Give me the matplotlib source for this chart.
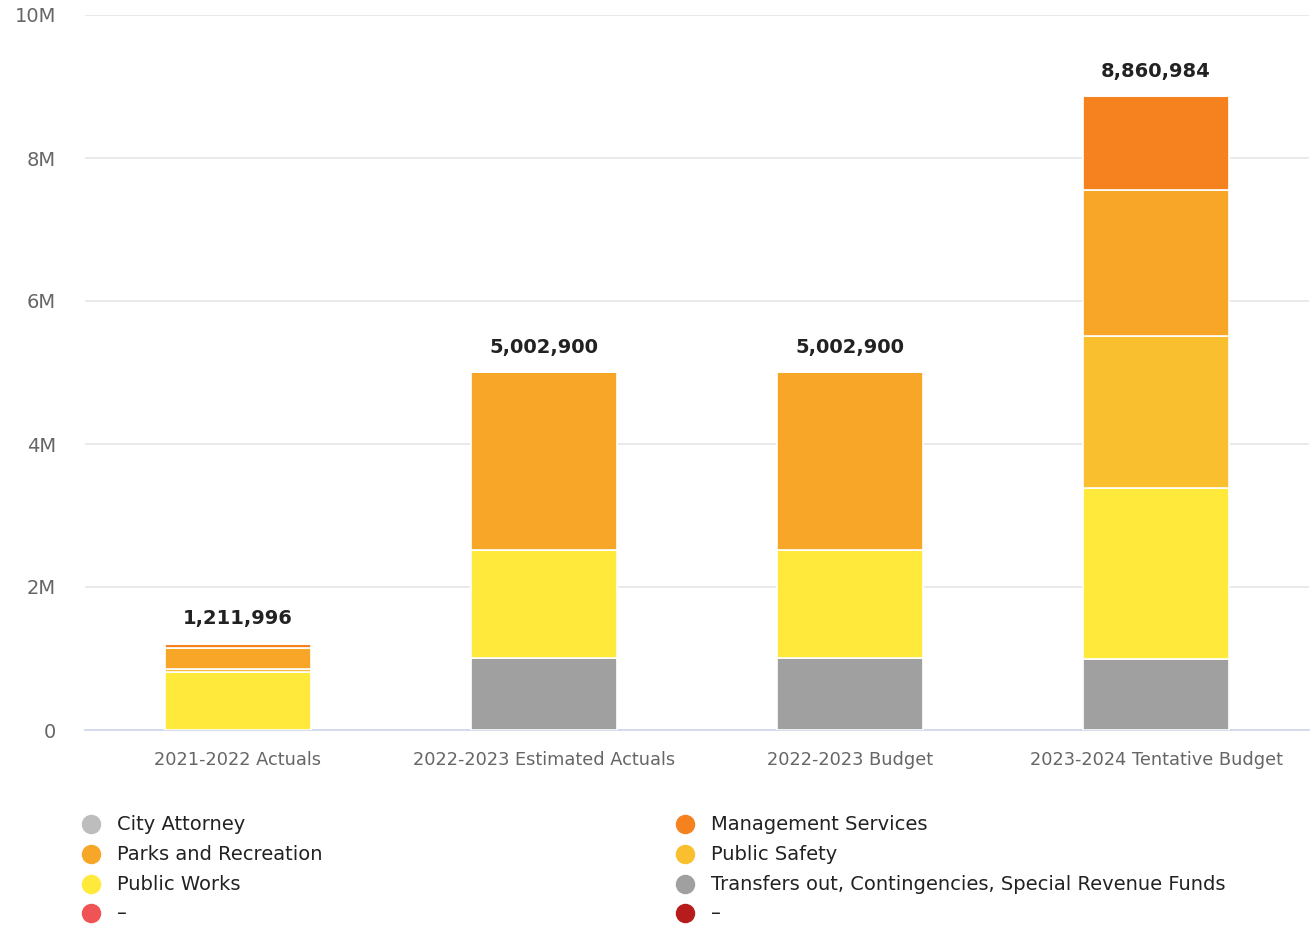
import matplotlib.pyplot as plt
import numpy as np

years = ["2021-2022 Actuals", "2022-2023 Estimated Actuals",
         "2022-2023 Budget", "2023-2024 Tentative Budget"]

# department spending per year, stacked bottom to top
transfers = [0, 1010000, 1010000, 1000000]
public_works = [810000, 1510000, 1510000, 2385000]
public_safety = [40000, 0, 0, 2125000]
parks = [300000, 2482900, 2482900, 2040000]
management = [50000, 0, 0, 1310984]
city_attorney = [11996, 0, 0, 0]

totals = ["1,211,996", "5,002,900", "5,002,900", "8,860,984"]

stack = [
    ("Transfers out, Contingencies, Special Revenue Funds", transfers, "#a0a0a0"),
    ("Public Works", public_works, "#ffea3b"),
    ("Public Safety", public_safety, "#f9bf2e"),
    ("Parks and Recreation", parks, "#f7a627"),
    ("Management Services", management, "#f5821f"),
    ("City Attorney", city_attorney, "#bdbdbd"),
]

W, H = 1314, 926
fig = plt.figure(figsize=(W / 100, H / 100), dpi=100)
ax = fig.add_axes([85 / W, 1 - 730 / H, 1224 / W, 715 / H])

x = np.arange(len(years))
bottom = np.zeros(len(years))
for name, vals, color in stack:
    vals = np.array(vals, dtype=float)
    ax.bar(x, vals, 0.477, bottom=bottom, color=color,
           edgecolor="white", linewidth=1.2, zorder=3)
    bottom += vals

for i, lab in enumerate(totals):
    ax.text(x[i], bottom[i] + 220000, lab, ha="center", va="bottom",
            fontsize=14, fontweight="bold", color="#222222")

ax.set_xlim(-0.5, 3.5)
ax.set_ylim(0, 10000000)
ax.set_yticks([0, 2e6, 4e6, 6e6, 8e6, 10e6])
ax.set_yticklabels(["0", "2M", "4M", "6M", "8M", "10M"])
ax.set_xticks(x)
ax.set_xticklabels(years)
ax.tick_params(axis="y", length=0, pad=21, labelsize=14, labelcolor="#666666")
ax.tick_params(axis="x", length=0, pad=15, labelsize=12.8, labelcolor="#666666")
ax.grid(axis="y", color="#e6e6e6", linewidth=1.2, zorder=0)
for s in ["top", "right", "left"]:
    ax.spines[s].set_visible(False)
ax.spines["bottom"].set_color("#ccd6eb")
ax.spines["bottom"].set_linewidth(1.2)

# legend in two columns, placed item by item
legend_cols = [
    [("City Attorney", "#bdbdbd"),
     ("Parks and Recreation", "#f7a627"),
     ("Public Works", "#ffea3b"),
     ("–", "#ef5353")],
    [("Management Services", "#f5821f"),
     ("Public Safety", "#f9bf2e"),
     ("Transfers out, Contingencies, Special Revenue Funds", "#a0a0a0"),
     ("–", "#b71c1c")],
]
col_x = [91, 685]
row_y = [824, 854, 884, 913]
for cx, items in zip(col_x, legend_cols):
    for ry, (name, color) in zip(row_y, items):
        fig.add_artist(plt.Line2D([cx / W], [1 - ry / H], marker="o",
                                  markersize=13, color=color,
                                  transform=fig.transFigure))
        fig.text((cx + 26) / W, 1 - ry / H, name, ha="left", va="center",
                 fontsize=14, color="#222222")

fig.savefig("out.png", dpi=100)
